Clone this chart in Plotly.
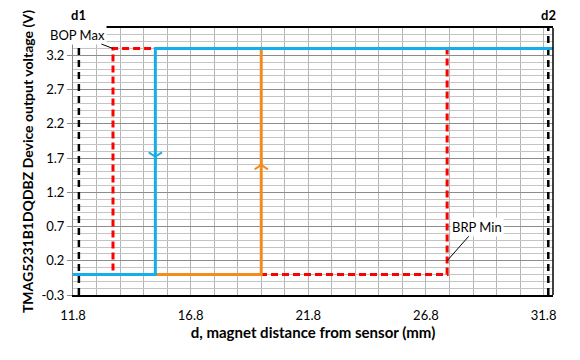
import plotly.graph_objects as go

# ---- data ----
d_blue = [11.8, 15.3, 15.3, 32.2]
v_blue = [0.0, 0.0, 3.3, 3.3]
d_orange = [15.3, 19.8, 19.8]
v_orange = [0.0, 0.0, 3.3]
d_bop = [11.8, 13.5, 13.5, 32.2]
v_bop = [0.0, 0.0, 3.3, 3.3]
d_brp = [11.8, 27.7, 27.7, 32.2]
v_brp = [0.0, 0.0, 3.3, 3.3]
d_limits = [12.05, 32.0]
d_limit_labels = ["d1", "d2"]
arrow_blue = (15.3, 1.72)
arrow_orange = (19.8, 1.6)
bop_label = ("BOP Max", 13.5, 3.3)
brp_label = ("BRP Min", 27.7, 0.2)
x_ticks = [11.8, 16.8, 21.8, 26.8, 31.8]
y_ticks = [-0.3, 0.2, 0.7, 1.2, 1.7, 2.2, 2.7, 3.2]
x_range = [11.8, 32.2]
y_range = [-0.3, 3.6]

BLUE = "#16AEE8"
ORANGE = "#F28C1F"
RED = "#FF0000"
FONT = "Lato"

fig = go.Figure()

for xv in d_limits:
    fig.add_trace(go.Scatter(x=[xv, xv], y=y_range, mode="lines",
                             line=dict(color="black", width=2.5, dash="7px,5px"),
                             hoverinfo="skip"))

fig.add_trace(go.Scatter(x=d_bop, y=v_bop, mode="lines",
                         line=dict(color=RED, width=3, dash="7px,4px")))
fig.add_trace(go.Scatter(x=d_brp, y=v_brp, mode="lines",
                         line=dict(color=RED, width=3, dash="7px,4px")))
fig.add_trace(go.Scatter(x=d_orange, y=v_orange, mode="lines",
                         line=dict(color=ORANGE, width=3)))
fig.add_trace(go.Scatter(x=d_blue, y=v_blue, mode="lines",
                         line=dict(color=BLUE, width=3)))

fig.add_trace(go.Scatter(x=[arrow_blue[0]], y=[arrow_blue[1]], mode="markers",
                         marker=dict(symbol="y-down-open", size=11, color=BLUE,
                                     line=dict(color=BLUE, width=2))))
fig.add_trace(go.Scatter(x=[arrow_orange[0]], y=[arrow_orange[1]], mode="markers",
                         marker=dict(symbol="y-up-open", size=11, color=ORANGE,
                                     line=dict(color=ORANGE, width=2))))

annotations = []
for xv, lab in zip(d_limits, d_limit_labels):
    annotations.append(dict(x=xv, y=1, xref="x", yref="paper", yanchor="bottom",
                            yshift=3, text=f"<b>{lab}</b>", showarrow=False,
                            font=dict(family=FONT, size=13, color="black")))
annotations.append(dict(x=bop_label[1], y=bop_label[2], text=bop_label[0],
                        ax=-36, ay=-14, showarrow=True, arrowhead=0,
                        arrowwidth=1, arrowcolor="black", bgcolor="white",
                        font=dict(family=FONT, size=13, color="black")))
annotations.append(dict(x=brp_label[1], y=brp_label[2], text=brp_label[0],
                        ax=30, ay=-34, showarrow=True, arrowhead=0,
                        arrowwidth=1, arrowcolor="black", bgcolor="white",
                        font=dict(family=FONT, size=13, color="black")))

fig.update_layout(
    width=580, height=360,
    margin=dict(l=73, r=27, t=28, b=65),
    paper_bgcolor="white", plot_bgcolor="white",
    showlegend=False,
    font=dict(family=FONT, size=13, color="black"),
    annotations=annotations,
    shapes=[dict(type="line", xref="paper", yref="paper", x0=1, x1=1, y0=0, y1=1,
                 line=dict(color="black", width=1.5))],
    xaxis=dict(range=x_range, tickvals=x_ticks, ticktext=[f"{v:.1f}" for v in x_ticks],
               showgrid=True, gridcolor="#B5B5B5", gridwidth=1,
               minor=dict(tick0=11.8, dtick=1, showgrid=True, gridcolor="#B5B5B5"),
               showline=True, linecolor="black", linewidth=1.5, mirror=True,
               ticks="outside", ticklen=8, tickcolor="rgba(0,0,0,0)",
               zeroline=False,
               title=dict(text="<b>d, magnet distance from sensor (mm)</b>",
                          font=dict(family=FONT, size=15), standoff=4)),
    yaxis=dict(range=y_range, tickvals=y_ticks, ticktext=[f"{v:.1f}" for v in y_ticks],
               showgrid=True, gridcolor="#8C8C8C", gridwidth=1,
               minor=dict(tick0=-0.3, dtick=0.1, showgrid=True, gridcolor="#C4C4C4"),
               showline=True, linecolor="#8C8C8C", linewidth=1,
               ticks="outside", ticklen=5, tickcolor="#8C8C8C",
               zeroline=False,
               title=dict(text="<b>TMAG5231B1DQDBZ Device output voltage (V)</b>",
                          font=dict(family=FONT, size=14), standoff=4)),
)

fig.write_html("out.html")
